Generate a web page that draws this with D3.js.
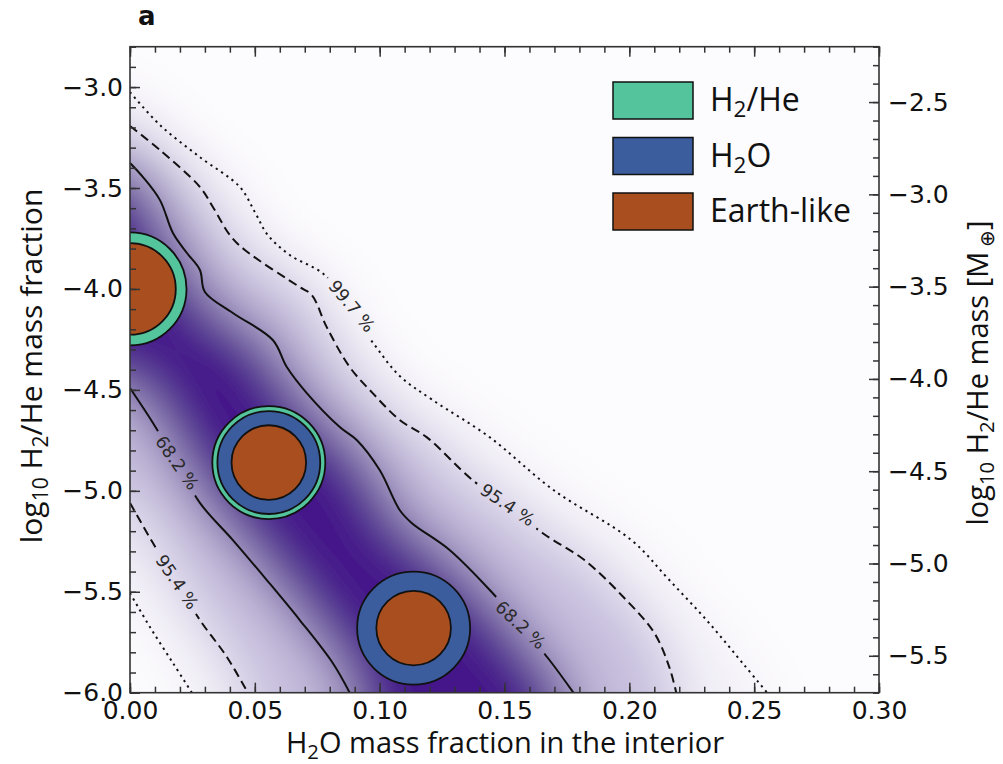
<!DOCTYPE html>
<html>
<head>
<meta charset="utf-8">
<script src="https://cdn.jsdelivr.net/npm/d3@7"></script>
<style>
    body { margin: 0; background: #fff; }
</style>
</head>
<body>
<svg id="chart" width="1003" height="764"></svg>
<script>
// contour lines: [H2O mass fraction, log10 H2/He mass fraction]
var upper997 = [[0, -3.025], [0.012, -3.188], [0.028, -3.347], [0.044, -3.495], [0.050, -3.619], [0.0552, -3.733],
    [0.064, -3.832], [0.078, -3.931], [0.088, -4.105], [0.098, -4.278], [0.108, -4.431], [0.1212, -4.550],
    [0.144, -4.734], [0.1696, -4.996], [0.2008, -5.244], [0.216, -5.442], [0.2316, -5.650], [0.246, -5.863], [0.2552, -6.0]]
var upper954 = [[0, -3.193], [0.012, -3.312], [0.028, -3.495], [0.0332, -3.594], [0.040, -3.733], [0.046, -3.807],
    [0.068, -3.991], [0.0728, -4.030], [0.0788, -4.189], [0.088, -4.387], [0.0972, -4.516], [0.108, -4.649],
    [0.1188, -4.734], [0.1372, -4.947], [0.1512, -5.070], [0.1652, -5.209], [0.182, -5.343], [0.1976, -5.526],
    [0.210, -5.704], [0.216, -5.873], [0.2188, -6.0]]
var upper682 = [[0, -3.376], [0.0052, -3.446], [0.012, -3.560], [0.0172, -3.723], [0.0228, -3.822], [0.028, -3.906],
    [0.030, -4.015], [0.0412, -4.119], [0.0572, -4.253], [0.0628, -4.387], [0.0708, -4.516], [0.084, -4.684],
    [0.0908, -4.748], [0.100, -4.897], [0.108, -5.095], [0.1128, -5.159], [0.128, -5.293], [0.1452, -5.506],
    [0.1564, -5.665], [0.168, -5.838], [0.1776, -6.0]]
var lower682 = [[0, -4.491], [0.0092, -4.664], [0.0188, -4.862], [0.028, -5.060], [0.0412, -5.244], [0.0548, -5.442],
    [0.068, -5.640], [0.0812, -5.853], [0.088, -6.0]]
var lower954 = [[0, -5.060], [0.0092, -5.259], [0.0188, -5.452], [0.028, -5.640], [0.0388, -5.823], [0.0472, -6.0]]
var lower997 = [[0, -5.506], [0.008, -5.675], [0.0172, -5.853], [0.0248, -6.0]]

var levelNames = ['68.2 %', '95.4 %', '99.7 %']

// inline contour labels: level index, x, y, angle
var labelLevel = [2, 1, 0, 0, 1]
var labelX = [0.0888, 0.1512, 0.1564, 0.0188, 0.0188]
var labelY = [-4.085, -5.070, -5.665, -4.862, -5.452]
var labelAngle = [50, 34, 43, 55, 56]

// planet sketches: outer-to-inner radius fraction of each layer (0 = absent)
var layerNames = ['H2/He', 'H2O', 'Earth-like']
var planetX = [0.0, 0.0556, 0.1136]
var planetY = [-4.0, -4.86, -5.68]
var planetLayers = [[1.0, 0, 0.81], [1.0, 0.91, 0.66], [0, 1.0, 0.66]]

var xTicks = [0, 0.05, 0.10, 0.15, 0.20, 0.25, 0.30]
var yTicks = [-6.0, -5.5, -5.0, -4.5, -4.0, -3.5, -3.0]
var yRightTicks = [-5.5, -5.0, -4.5, -4.0, -3.5, -3.0, -2.5]

var W = 1003, H = 764
var layerColors = ['#54c49c', '#3b5d9e', '#a94f1f']
var lineDash = [null, '9,5', '2.2,4.2']
var bandColors = ['#44128a', '#c6bddd', '#f2f0f7']

var x = d3.scaleLinear().domain([0, 0.3]).range([130, 879])
var y = d3.scaleLinear().domain([-6, -2.8]).range([692.7, 46.7])
var yR = d3.scaleLinear().domain([-5.7, -2.2]).range([692.7, 46.7])

var svg = d3.select('#chart')
svg.append('rect').attr('width', W).attr('height', H).attr('fill', '#fff')

var defs = svg.append('defs')
defs.append('clipPath').attr('id', 'plot-clip').append('rect')
    .attr('x', x(0)).attr('y', y(-2.8))
    .attr('width', x(0.3) - x(0)).attr('height', y(-6) - y(-2.8))
defs.append('filter').attr('id', 'soft')
    .attr('filterUnits', 'userSpaceOnUse')
    .attr('x', 0).attr('y', 0).attr('width', W).attr('height', H)
    .append('feGaussianBlur').attr('stdDeviation', 28)

svg.append('rect')
    .attr('x', x(0)).attr('y', y(-2.8))
    .attr('width', x(0.3) - x(0)).attr('height', y(-6) - y(-2.8))
    .attr('fill', '#fcfbfd')

var toPx = function (p) { return [x(p[0]), y(p[1])] }

// closed region between an upper and a lower contour, pushed past the frame so the blur does not fade at the edges
function band(upper, lower) {
    var pts = [[-0.08, upper[0][1]]].concat(upper)
    pts.push([upper[upper.length - 1][0], -6.6])
    pts.push([lower[lower.length - 1][0], -6.6])
    pts = pts.concat(lower.slice().reverse())
    pts.push([-0.08, lower[0][1]])
    return pts.map(toPx)
}

var density = svg.append('g').attr('clip-path', 'url(#plot-clip)')
    .append('g').attr('filter', 'url(#soft)')
var bandPairs = [[upper997, lower997], [upper954, lower954], [upper682, lower682]]
bandPairs.forEach(function (pair, i) {
    density.append('path')
        .attr('d', d3.line().curve(d3.curveLinearClosed)(band(pair[0], pair[1])))
        .attr('fill', bandColors[2 - i])
})

// mask out the line under each inline label
var mask = defs.append('mask').attr('id', 'label-gaps')
    .attr('maskUnits', 'userSpaceOnUse').attr('x', 0).attr('y', 0).attr('width', W).attr('height', H)
mask.append('rect').attr('width', W).attr('height', H).attr('fill', '#fff')
labelX.forEach(function (lx, i) {
    mask.append('rect')
        .attr('x', -37).attr('y', -10).attr('width', 74).attr('height', 20)
        .attr('fill', '#000')
        .attr('transform', 'translate(' + x(lx) + ',' + y(labelY[i]) + ') rotate(' + labelAngle[i] + ')')
})

var contourLine = d3.line().curve(d3.curveCatmullRom.alpha(0.5))
var lines = svg.append('g').attr('clip-path', 'url(#plot-clip)')
    .append('g').attr('mask', 'url(#label-gaps)')
var lineSets = [[upper682, 0], [lower682, 0], [upper954, 1], [lower954, 1], [upper997, 2], [lower997, 2]]
lineSets.forEach(function (s) {
    lines.append('path')
        .attr('d', contourLine(s[0].map(toPx)))
        .attr('fill', 'none')
        .attr('stroke', '#111')
        .attr('stroke-width', 2)
        .attr('stroke-dasharray', lineDash[s[1]])
})

svg.append('g').selectAll('text').data(labelX).enter().append('text')
    .attr('transform', function (d, i) {
        return 'translate(' + x(d) + ',' + y(labelY[i]) + ') rotate(' + labelAngle[i] + ')'
    })
    .attr('text-anchor', 'middle')
    .attr('dominant-baseline', 'central')
    .attr('font-family', 'DejaVu Sans')
    .attr('font-size', 17.5)
    .attr('fill', '#2a2a2a')
    .text(function (d, i) { return levelNames[labelLevel[i]] })

// planets
var R = 56.5
var planets = svg.append('g').attr('clip-path', 'url(#plot-clip)')
planetX.forEach(function (px, i) {
    planetLayers[i].forEach(function (f, j) {
        if (!f) return
        planets.append('circle')
            .attr('cx', x(px)).attr('cy', y(planetY[i])).attr('r', R * f)
            .attr('fill', layerColors[j])
            .attr('stroke', '#111').attr('stroke-width', 1.8)
    })
})

// axes, ticks pointing inward
function styleAxis(g) {
    g.select('.domain').remove()
    g.attr('font-family', 'DejaVu Sans').attr('font-size', 25)
    g.selectAll('line').attr('stroke', '#333').attr('stroke-width', 1.5)
    g.selectAll('text').attr('fill', '#111')
}
var fmt1 = d3.format('.1f'), fmt2 = d3.format('.2f')
var xMinor = d3.range(0, 0.3001, 0.01)
var yMinor = d3.range(-6, -2.79, 0.1)
var yRMinor = d3.range(-5.7, -2.19, 0.1)

svg.append('g').attr('transform', 'translate(0,692.7)')
    .call(d3.axisBottom(x).tickValues(xMinor).tickSize(-6).tickFormat('')).call(styleAxis)
svg.append('g').attr('transform', 'translate(0,692.7)')
    .call(d3.axisBottom(x).tickValues(xTicks).tickSize(-10).tickPadding(9).tickFormat(fmt2)).call(styleAxis)
svg.append('g').attr('transform', 'translate(0,46.7)')
    .call(d3.axisTop(x).tickValues(xMinor).tickSize(-6).tickFormat('')).call(styleAxis)
svg.append('g').attr('transform', 'translate(0,46.7)')
    .call(d3.axisTop(x).tickValues(xTicks).tickSize(-10).tickFormat('')).call(styleAxis)
svg.append('g').attr('transform', 'translate(130,0)')
    .call(d3.axisLeft(y).tickValues(yMinor).tickSize(-6).tickFormat('')).call(styleAxis)
svg.append('g').attr('transform', 'translate(130,0)')
    .call(d3.axisLeft(y).tickValues(yTicks).tickSize(-10).tickPadding(7).tickFormat(fmt1)).call(styleAxis)
svg.append('g').attr('transform', 'translate(879,0)')
    .call(d3.axisRight(yR).tickValues(yRMinor).tickSize(-6).tickFormat('')).call(styleAxis)
svg.append('g').attr('transform', 'translate(879,0)')
    .call(d3.axisRight(yR).tickValues(yRightTicks).tickSize(-10).tickPadding(9).tickFormat(fmt1)).call(styleAxis)

svg.append('rect')
    .attr('x', x(0)).attr('y', y(-2.8))
    .attr('width', x(0.3) - x(0)).attr('height', y(-6) - y(-2.8))
    .attr('fill', 'none').attr('stroke', '#333').attr('stroke-width', 1.6)

// text with subscripts: parts = [[text, isSub], ...]
function rich(t, parts, size) {
    var shift = 0
    parts.forEach(function (p) {
        var s = t.append('tspan').text(p[0])
        if (p[1]) {
            s.attr('font-size', size * 0.7).attr('dy', size * 0.2 - shift)
            shift = size * 0.2
        } else {
            s.attr('dy', -shift)
            shift = 0
        }
    })
    return t
}

var labelFont = '"Open Sans", sans-serif'
rich(svg.append('text').attr('x', 505).attr('y', 753)
        .attr('text-anchor', 'middle').attr('font-family', labelFont).attr('font-size', 29).attr('fill', '#111'),
    [['H'], ['2', 1], ['O mass fraction in the interior']], 29)
rich(svg.append('text').attr('transform', 'translate(42,366) rotate(-90)')
        .attr('text-anchor', 'middle').attr('font-family', labelFont).attr('font-size', 30).attr('fill', '#111'),
    [['log'], ['10', 1], [' H'], ['2', 1], ['/He mass fraction']], 30)
rich(svg.append('text').attr('transform', 'translate(988,373) rotate(-90)')
        .attr('text-anchor', 'middle').attr('font-family', labelFont).attr('font-size', 29).attr('fill', '#111'),
    [['log'], ['10', 1], [' H'], ['2', 1], ['/He mass [M\u2009'], ['\u2295', 1], [']']], 29)

svg.append('text').attr('x', 138).attr('y', 25)
    .attr('font-family', 'DejaVu Sans').attr('font-weight', 'bold').attr('font-size', 26)
    .attr('fill', '#111').text('a')

// legend
var legendParts = [[['H'], ['2', 1], ['/He']], [['H'], ['2', 1], ['O']], [['Earth-like']]]
var legend = svg.append('g').attr('transform', 'translate(613,82)')
layerNames.forEach(function (name, i) {
    var row = legend.append('g').attr('transform', 'translate(0,' + i * 55.5 + ')')
    row.append('rect').attr('width', 80).attr('height', 37)
        .attr('fill', layerColors[i]).attr('stroke', '#111').attr('stroke-width', 1.5)
    rich(row.append('text').attr('x', 97).attr('y', 29)
            .attr('font-family', labelFont).attr('font-size', 32).attr('fill', '#111'),
        legendParts[i], 32)
})
</script>
</body>
</html>
